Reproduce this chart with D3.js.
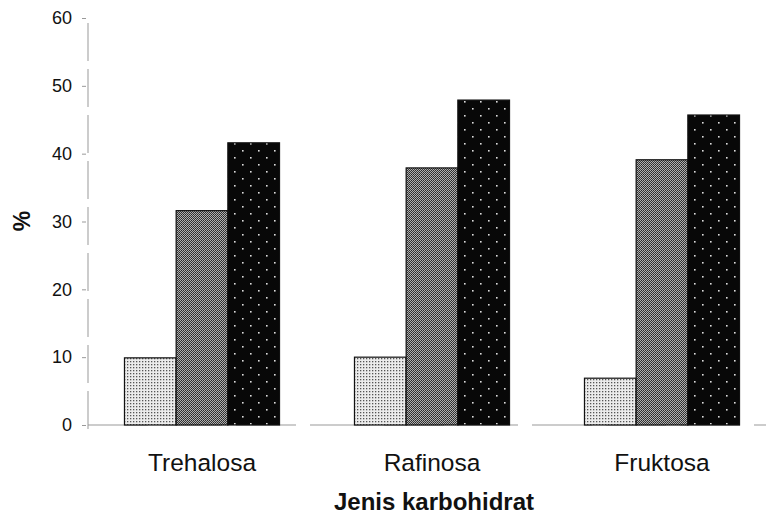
<!DOCTYPE html>
<html lang="en">
<head>
<meta charset="utf-8">
<style>
  body { margin: 0; background: #fff; }
  text { font-family: "Liberation Sans", Arial, sans-serif; fill: #111; }
  .tick text { font-size: 18px; }
  .cat { font-size: 24.5px; }
  .title { font-size: 24px; font-weight: bold; }
  .ylab { font-size: 23px; font-weight: bold; }
</style>
</head>
<body>
<script src="https://d3js.org/d3.v7.min.js"></script>
<script>
// data
var categories = ["Trehalosa", "Rafinosa", "Fruktosa"];
var series = ["s1", "s2", "s3"];
var s1 = [9.9, 10.0, 6.9];
var s2 = [31.6, 37.9, 39.1];
var s3 = [41.6, 47.9, 45.7];
var yTicks = [0, 10, 20, 30, 40, 50, 60];

var W = 766, H = 516;
var svg = d3.select("body").append("svg")
    .attr("width", W).attr("height", H);

// textures of the scanned bars
var defs = svg.append("defs");
var p1 = defs.append("pattern").attr("id", "light")
    .attr("patternUnits", "userSpaceOnUse").attr("width", 3).attr("height", 3);
p1.append("rect").attr("width", 3).attr("height", 3).attr("fill", "#ececec");
p1.append("rect").attr("x", 1).attr("y", 1).attr("width", 1.3).attr("height", 1.3).attr("fill", "#555");

var p2 = defs.append("pattern").attr("id", "mid")
    .attr("patternUnits", "userSpaceOnUse").attr("width", 2).attr("height", 2);
p2.append("rect").attr("width", 2).attr("height", 2).attr("fill", "#b0b0b0");
p2.append("rect").attr("width", 1).attr("height", 1).attr("fill", "#2a2a2a");
p2.append("rect").attr("x", 1).attr("y", 1).attr("width", 1).attr("height", 1).attr("fill", "#3a3a3a");

var p3 = defs.append("pattern").attr("id", "dark")
    .attr("patternUnits", "userSpaceOnUse").attr("width", 16).attr("height", 14);
p3.append("rect").attr("width", 16).attr("height", 14).attr("fill", "#080808");
p3.append("rect").attr("x", 3).attr("y", 3).attr("width", 1.6).attr("height", 1.6).attr("fill", "#ddd");
p3.append("rect").attr("x", 11).attr("y", 10).attr("width", 1.6).attr("height", 1.6).attr("fill", "#ddd");

var fills = ["url(#light)", "url(#mid)", "url(#dark)"];

var y = d3.scaleLinear().domain([0, 60]).range([425, 18]);
var x0 = d3.scaleBand().domain(categories).range([87, 777]).padding(0);
var x1 = d3.scaleBand().domain(series).range([0, x0.bandwidth()])
    .paddingInner(0).paddingOuter(0.725);

// axes (faint, broken like the scan)
svg.append("line")
    .attr("x1", 88).attr("x2", 88)
    .attr("y1", y(60) + 5).attr("y2", y(0) + 8)
    .attr("stroke", "#999").attr("stroke-width", 1)
    .attr("stroke-dasharray", "38,8");
svg.append("line")
    .attr("x1", 88).attr("x2", W)
    .attr("y1", y(0)).attr("y2", y(0))
    .attr("stroke", "#999").attr("stroke-width", 1)
    .attr("stroke-dasharray", "60,14");

var yAxis = svg.append("g")
    .attr("transform", "translate(86,0)")
    .call(d3.axisLeft(y).tickValues(yTicks).tickSize(4).tickPadding(10));
yAxis.select(".domain").remove();
yAxis.selectAll(".tick line").attr("stroke", "#999");

var groups = svg.append("g").selectAll("g")
    .data(categories)
    .join("g")
    .attr("transform", function(d) { return "translate(" + x0(d) + ",0)"; });

var vals = [s1, s2, s3];
groups.selectAll("rect")
    .data(function(d, i) { return series.map(function(s, j) { return {s: s, j: j, v: vals[j][i]}; }); })
    .join("rect")
    .attr("x", function(d) { return x1(d.s); })
    .attr("y", function(d) { return y(d.v); })
    .attr("width", x1.bandwidth())
    .attr("height", function(d) { return y(0) - y(d.v); })
    .attr("fill", function(d) { return fills[d.j]; })
    .attr("stroke", "#111").attr("stroke-width", 1.2);

svg.append("g").selectAll("text")
    .data(categories)
    .join("text")
    .attr("class", "cat")
    .attr("x", function(d) { return x0(d) + x0.bandwidth() / 2; })
    .attr("y", 471)
    .attr("text-anchor", "middle")
    .text(function(d) { return d; });

svg.append("text")
    .attr("class", "title")
    .attr("x", 434).attr("y", 510)
    .attr("text-anchor", "middle")
    .text("Jenis karbohidrat");

svg.append("text")
    .attr("class", "ylab")
    .attr("transform", "translate(30,221) rotate(-90)")
    .attr("text-anchor", "middle")
    .text("%");
</script>
</body>
</html>
